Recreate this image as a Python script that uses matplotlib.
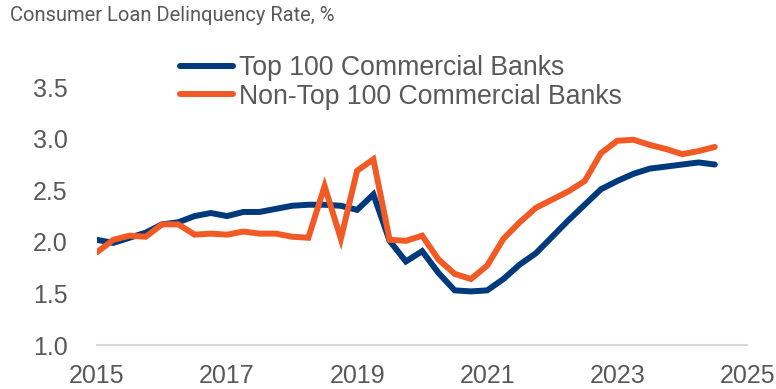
import matplotlib
matplotlib.use('Agg')
import matplotlib.pyplot as plt
import pandas as pd

plt.rcParams.update({'font.family': ['Liberation Sans', 'DejaVu Sans']})

GREY = '#595959'
BLUE = '#003A7D'
ORANGE = '#F15A24'

# quarterly observations, 2015Q1 .. 2024Q3
quarters = pd.period_range('2015Q1', '2024Q3', freq='Q')
top100 = [2.02, 1.99, 2.04, 2.09, 2.17, 2.19, 2.25, 2.28, 2.25, 2.29,
          2.29, 2.32, 2.35, 2.36, 2.36, 2.35, 2.31, 2.46, 2.01, 1.81,
          1.91, 1.70, 1.53, 1.52, 1.53, 1.64, 1.78, 1.89, 2.05, 2.21,
          2.36, 2.51, 2.59, 2.66, 2.71, 2.73, 2.75, 2.77, 2.75]
non_top100 = [1.90, 2.02, 2.06, 2.05, 2.17, 2.17, 2.07, 2.08, 2.07, 2.10,
              2.08, 2.08, 2.05, 2.04, 2.54, 2.03, 2.69, 2.80, 2.02, 2.01,
              2.06, 1.83, 1.69, 1.64, 1.77, 2.03, 2.19, 2.33, 2.41, 2.49,
              2.59, 2.86, 2.98, 2.99, 2.94, 2.90, 2.85, 2.88, 2.92]
series_names = ['Top 100 Commercial Banks', 'Non-Top 100 Commercial Banks']
year_ticks = [2015, 2017, 2019, 2021, 2023, 2025]
y_ticks = [1.0, 1.5, 2.0, 2.5, 3.0, 3.5]

x = [q.year + (q.quarter - 1) / 4 for q in quarters]

fig = plt.figure(figsize=(7.76, 3.89), dpi=100)
ax = fig.add_axes([0.125, 0.113, 0.838, 0.663])

ax.plot(x, top100, color=BLUE, lw=4.3, solid_capstyle='round',
        solid_joinstyle='miter', label=series_names[0], zorder=3)
ax.plot(x, non_top100, color=ORANGE, lw=4.3, solid_capstyle='round',
        solid_joinstyle='miter', label=series_names[1], zorder=4)

ax.set_xlim(2015, 2025)
ax.set_ylim(1.0, 3.5)
ax.set_xticks(year_ticks)
ax.set_yticks(y_ticks)
ax.set_yticklabels([f'{v:.1f}' for v in y_ticks])
ax.tick_params(length=0, labelsize=18, colors=GREY)
ax.tick_params(axis='x', pad=14)
ax.tick_params(axis='y', pad=21)
for s in ['top', 'right', 'left']:
    ax.spines[s].set_visible(False)
ax.spines['bottom'].set_color('#D9D9D9')
ax.spines['bottom'].set_linewidth(1.5)

leg = fig.legend(loc='upper left', bbox_to_anchor=(180 / 776, 1 - 55 / 389),
                 frameon=False, fontsize=19.2, handlelength=2.0,
                 handletextpad=0.2, labelspacing=0.1, borderpad=0,
                 borderaxespad=0)
for t in leg.get_texts():
    t.set_color(GREY)
for h in leg.get_lines():
    h.set_solid_capstyle('round')

fig.text(10 / 776, 1 - 6 / 389, 'Consumer Loan Delinquency Rate, %',
         family=['Roboto', 'Liberation Sans'], fontsize=14.5,
         color=GREY, va='top', ha='left')

fig.savefig('out.png', dpi=100)
